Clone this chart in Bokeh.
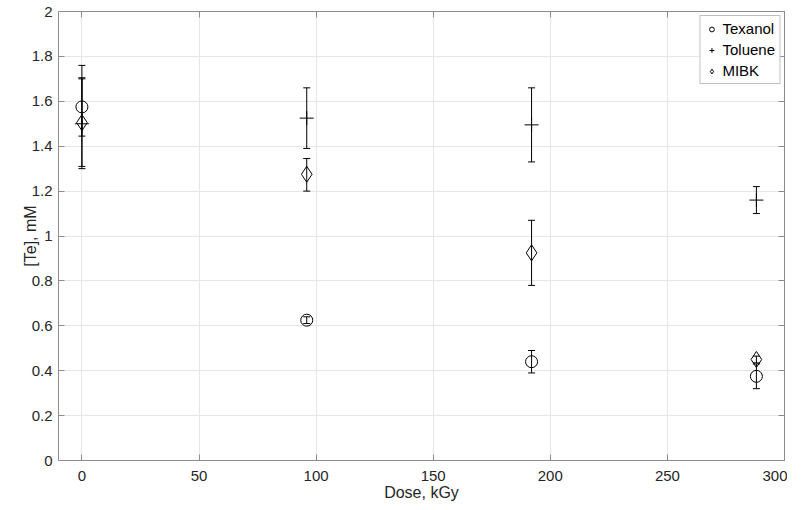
from bokeh.plotting import figure
from bokeh.models import (ColumnDataSource, Whisker, TeeHead, LinearAxis, FixedTicker,
                          Range1d, Legend, LegendItem)
from bokeh.embed import file_html
from bokeh.resources import INLINE

dose = [0, 96, 192, 288]

texanol = [1.575, 0.625, 0.44, 0.375]
texanol_lo = [1.445, 0.61, 0.39, 0.32]
texanol_hi = [1.705, 0.64, 0.49, 0.43]

toluene = [1.50, 1.525, 1.495, 1.16]
toluene_lo = [1.30, 1.39, 1.33, 1.10]
toluene_hi = [1.70, 1.66, 1.66, 1.22]

mibk = [1.505, 1.275, 0.925, 0.45]
mibk_lo = [1.31, 1.20, 0.78, 0.435]
mibk_hi = [1.76, 1.345, 1.07, 0.465]

x_ticks = [0, 50, 100, 150, 200, 250, 300]
y_ticks = [0, 0.2, 0.4, 0.6, 0.8, 1, 1.2, 1.4, 1.6, 1.8, 2]
y_tick_labels = ["0", "0.2", "0.4", "0.6", "0.8", "1", "1.2", "1.4", "1.6", "1.8", "2"]

FONT = "Liberation Sans"
AXIS_COLOR = "#8c8c8c"

p = figure(width=787, height=503, output_backend="svg", toolbar_location=None,
           x_range=Range1d(-10, 300), y_range=Range1d(0, 2),
           min_border_left=58, min_border_right=3, min_border_top=11, min_border_bottom=36)
p.outline_line_color = None
p.background_fill_color = "white"

for ax in (p.xaxis[0], p.yaxis[0]):
    ax.major_tick_in = 6
    ax.major_tick_out = 0
    ax.minor_tick_in = 0
    ax.minor_tick_out = 0
    ax.axis_line_color = AXIS_COLOR
    ax.major_tick_line_color = AXIS_COLOR
    ax.major_label_text_font = FONT
    ax.major_label_text_font_size = "15px"
    ax.major_label_text_color = "#262626"
    ax.axis_label_text_font = FONT
    ax.axis_label_text_font_size = "16px"
    ax.axis_label_text_font_style = "normal"
    ax.axis_label_text_color = "#262626"

p.xaxis[0].ticker = FixedTicker(ticks=x_ticks)
p.yaxis[0].ticker = FixedTicker(ticks=y_ticks)
p.yaxis[0].major_label_overrides = {t: l for t, l in zip(y_ticks, y_tick_labels)}
p.xaxis[0].axis_label = "Dose, kGy"
p.yaxis[0].axis_label = "[Te], mM"
p.xaxis[0].major_label_standoff = 10
p.yaxis[0].major_label_standoff = 6
p.xaxis[0].axis_label_standoff = 0
p.yaxis[0].axis_label_standoff = -10

for loc, ticks in (("right", y_ticks), ("above", x_ticks)):
    ax = LinearAxis(ticker=FixedTicker(ticks=ticks))
    ax.major_label_text_font_size = "0px"
    ax.major_label_text_alpha = 0
    ax.major_tick_in = 6
    ax.major_tick_out = 0
    ax.minor_tick_in = 0
    ax.minor_tick_out = 0
    ax.axis_line_color = AXIS_COLOR
    ax.major_tick_line_color = AXIS_COLOR
    ax.major_label_standoff = 0
    p.add_layout(ax, loc)

p.xgrid.grid_line_color = "#e6e6e6"
p.ygrid.grid_line_color = "#e6e6e6"

series = [
    ("Texanol", texanol, texanol_lo, texanol_hi, "circle", 12),
    ("Toluene", toluene, toluene_lo, toluene_hi, "cross", 14),
    ("MIBK", mibk, mibk_lo, mibk_hi, "diamond", 16),
]

items = []
for name, vals, lo, hi, marker, size in series:
    src = ColumnDataSource(dict(x=dose, y=vals, lo=lo, hi=hi))
    w = Whisker(source=src, base="x", lower="lo", upper="hi", dimension="height",
                line_color="black", line_width=1,
                upper_head=TeeHead(size=7, line_color="black", line_width=1),
                lower_head=TeeHead(size=7, line_color="black", line_width=1))
    p.add_layout(w)
    r = p.scatter("x", "y", source=src, marker=marker, size=size,
                  fill_color=None, line_color="black", line_width=1)
    items.append(LegendItem(label=name, renderers=[r]))

legend = Legend(items=items, location="top_right",
                label_text_font=FONT, label_text_font_size="15px",
                label_text_color="black", glyph_width=14, glyph_height=12,
                label_height=15, spacing=4, padding=4, margin=4,
                border_line_color="#808080", border_line_width=1,
                label_standoff=4)
p.add_layout(legend)

open("out.html", "w").write(file_html(p, INLINE))
